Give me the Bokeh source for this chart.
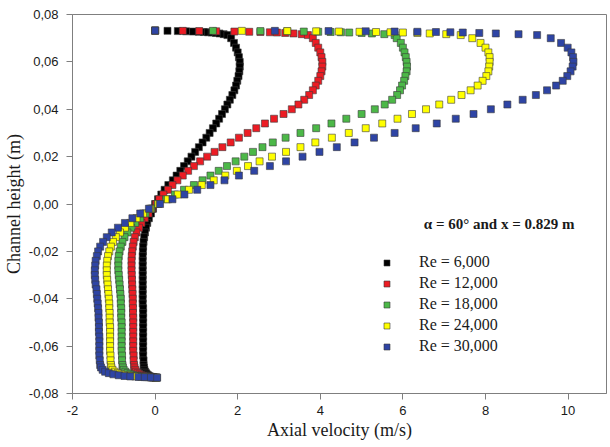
from bokeh.plotting import figure
from bokeh.models import Range1d, FixedTicker, CustomJSTickFormatter, Legend, LegendItem, Label
from bokeh.embed import file_html
from bokeh.resources import INLINE

# Channel height positions (m), shared by all series
y_pos = [0.0732, 0.0731, 0.0730, 0.0729, 0.0728, 0.0727, 0.0726, 0.0725, 0.0724, 0.0722, 0.0720, 0.0717, 0.0713,
         0.070, 0.068, 0.066, 0.064, 0.062, 0.060, 0.058, 0.056, 0.054, 0.052,
         0.050, 0.048, 0.046, 0.044, 0.042, 0.040, 0.038, 0.036, 0.034, 0.032,
         0.030, 0.028, 0.026, 0.024, 0.022, 0.020, 0.018, 0.016, 0.014, 0.012,
         0.010, 0.008, 0.006, 0.004, 0.002, 0.000, -0.002, -0.004, -0.006, -0.008,
         -0.010, -0.012, -0.014, -0.016, -0.018, -0.020, -0.022, -0.024, -0.026, -0.028,
         -0.030, -0.032, -0.034, -0.036, -0.038, -0.040, -0.042, -0.044, -0.046, -0.048,
         -0.050, -0.052, -0.054, -0.056, -0.058, -0.060, -0.062, -0.064, -0.066, -0.068,
         -0.0690, -0.0700, -0.0708, -0.0714, -0.0719, -0.0723, -0.0726, -0.0728, -0.0730, -0.0731, -0.0732, -0.0733]

u_re6000 = [0.0, 0.30, 0.55, 0.75, 0.92, 1.06, 1.18, 1.28, 1.37, 1.47, 1.56, 1.66, 1.75,
            1.84, 1.91, 1.96, 2.00, 2.03, 2.05, 2.05, 2.04, 2.02, 1.99,
            1.96, 1.92, 1.87, 1.81, 1.75, 1.69, 1.62, 1.55, 1.48, 1.40,
            1.32, 1.24, 1.15, 1.06, 0.97, 0.88, 0.79, 0.70, 0.61, 0.52,
            0.43, 0.32, 0.23, 0.15, 0.07, 0.00, -0.05, -0.10, -0.15, -0.19,
            -0.22, -0.245, -0.265, -0.28, -0.29, -0.295, -0.30, -0.30, -0.30, -0.30,
            -0.30, -0.30, -0.30, -0.30, -0.30, -0.30, -0.30, -0.29, -0.29, -0.29,
            -0.29, -0.29, -0.29, -0.29, -0.29, -0.29, -0.29, -0.29, -0.28, -0.28,
            -0.27, -0.26, -0.24, -0.22, -0.20, -0.17, -0.15, -0.12, -0.08, -0.05, -0.02, 0.02]

u_re12000 = [0.0, 0.67, 1.07, 1.48, 1.92, 2.28, 2.55, 2.78, 2.95, 3.15, 3.35, 3.55, 3.70,
             3.82, 3.89, 3.95, 4.00, 4.03, 4.05, 4.05, 4.03, 4.00, 3.95,
             3.89, 3.82, 3.73, 3.61, 3.47, 3.31, 3.11, 2.88, 2.66, 2.45,
             2.24, 2.03, 1.83, 1.63, 1.44, 1.26, 1.09, 0.94, 0.80, 0.67,
             0.54, 0.42, 0.31, 0.20, 0.10, 0.02, -0.07, -0.16, -0.25, -0.33,
             -0.39, -0.45, -0.49, -0.52, -0.54, -0.555, -0.565, -0.57, -0.57, -0.57,
             -0.565, -0.56, -0.555, -0.55, -0.545, -0.54, -0.54, -0.535, -0.535, -0.53,
             -0.53, -0.53, -0.53, -0.53, -0.53, -0.53, -0.53, -0.52, -0.52, -0.51,
             -0.50, -0.48, -0.46, -0.42, -0.38, -0.33, -0.28, -0.22, -0.15, -0.10, -0.04, 0.02]

u_re18000 = [0.0, 1.40, 2.55, 3.20, 3.60, 3.95, 4.25, 4.50, 4.70, 5.00, 5.25, 5.55, 5.80,
             5.85, 5.95, 6.00, 6.04, 6.07, 6.09, 6.10, 6.09, 6.06, 6.03,
             5.98, 5.93, 5.86, 5.74, 5.56, 5.32, 5.00, 4.63, 4.27, 3.90,
             3.52, 3.16, 2.85, 2.60, 2.37, 2.16, 1.95, 1.74, 1.54, 1.34,
             1.15, 0.94, 0.70, 0.48, 0.27, 0.06, -0.09, -0.23, -0.36, -0.48,
             -0.58, -0.67, -0.74, -0.79, -0.83, -0.86, -0.88, -0.89, -0.89, -0.89,
             -0.88, -0.87, -0.86, -0.85, -0.84, -0.83, -0.83, -0.82, -0.82, -0.82,
             -0.81, -0.81, -0.81, -0.81, -0.81, -0.81, -0.81, -0.80, -0.80, -0.79,
             -0.78, -0.76, -0.72, -0.67, -0.60, -0.52, -0.44, -0.35, -0.24, -0.15, -0.06, 0.03]

u_re24000 = [0.0, 2.10, 3.20, 3.90, 4.45, 4.95, 5.35, 5.70, 6.00, 6.35, 6.65, 7.05, 7.40,
             7.68, 7.88, 8.00, 8.07, 8.10, 8.10, 8.09, 8.07, 8.02, 7.93,
             7.81, 7.64, 7.42, 7.17, 6.88, 6.56, 6.22, 5.87, 5.50, 5.10,
             4.69, 4.28, 3.88, 3.52, 3.17, 2.83, 2.53, 2.25, 1.98, 1.70,
             1.42, 1.13, 0.82, 0.55, 0.31, 0.08, -0.12, -0.29, -0.45, -0.60,
             -0.73, -0.85, -0.95, -1.02, -1.07, -1.11, -1.14, -1.16, -1.17, -1.17,
             -1.17, -1.16, -1.15, -1.14, -1.13, -1.12, -1.11, -1.11, -1.10, -1.10,
             -1.10, -1.09, -1.09, -1.09, -1.09, -1.09, -1.09, -1.08, -1.08, -1.07,
             -1.06, -1.03, -0.98, -0.91, -0.82, -0.71, -0.60, -0.48, -0.32, -0.20, -0.08, 0.04]

u_re30000 = [0.0, 2.90, 4.20, 5.10, 5.80, 6.35, 6.80, 7.15, 7.45, 7.85, 8.25, 8.80, 9.25,
             9.58, 9.83, 9.99, 10.08, 10.12, 10.13, 10.11, 10.06, 9.98, 9.87,
             9.71, 9.49, 9.22, 8.90, 8.53, 8.13, 7.71, 7.28, 6.82, 6.31,
             5.80, 5.30, 4.83, 4.40, 3.98, 3.57, 3.17, 2.78, 2.40, 2.03,
             1.68, 1.34, 1.02, 0.71, 0.42, 0.12, -0.15, -0.36, -0.55, -0.73,
             -0.90, -1.05, -1.17, -1.26, -1.33, -1.38, -1.41, -1.44, -1.45, -1.46,
             -1.46, -1.45, -1.44, -1.42, -1.41, -1.40, -1.39, -1.38, -1.37, -1.37,
             -1.36, -1.36, -1.36, -1.35, -1.35, -1.35, -1.35, -1.35, -1.34, -1.33,
             -1.31, -1.27, -1.21, -1.12, -1.01, -0.88, -0.74, -0.60, -0.40, -0.25, -0.10, 0.05]

series_labels = ["Re = 6,000", "Re = 12,000", "Re = 18,000", "Re = 24,000", "Re = 30,000"]
series_values = [u_re6000, u_re12000, u_re18000, u_re24000, u_re30000]
series_colors = ["#000000", "#ec1c24", "#4cb848", "#ffff00", "#2e44a4"]

x_ticks = [-2, 0, 2, 4, 6, 8, 10]
y_ticks = [-0.08, -0.06, -0.04, -0.02, 0.0, 0.02, 0.04, 0.06, 0.08]

p = figure(width=610, height=447, output_backend="svg", toolbar_location=None,
           x_range=Range1d(-2, 10.93), y_range=Range1d(-0.08, 0.08),
           min_border_left=70, min_border_right=4, min_border_top=14, min_border_bottom=54,
           x_axis_label="Axial velocity (m/s)", y_axis_label="Channel height (m)")
p.background_fill_color = "white"
p.border_fill_color = "white"
p.outline_line_color = "#7f7f7f"
p.xgrid.visible = False
p.ygrid.visible = False

p.xaxis.ticker = FixedTicker(ticks=x_ticks)
p.yaxis.ticker = FixedTicker(ticks=y_ticks)
p.xaxis.formatter = CustomJSTickFormatter(code="return tick.toFixed(0);")
p.yaxis.formatter = CustomJSTickFormatter(
    code="if (Math.abs(tick) < 1e-9) { return '0,00'; } return tick.toFixed(2).replace('.', ',');")

for ax in (p.xaxis[0], p.yaxis[0]):
    ax.axis_line_color = "#7f7f7f"
    ax.major_tick_line_color = "#7f7f7f"
    ax.minor_tick_line_color = None
    ax.major_tick_out = 6
    ax.major_tick_in = 0
    ax.major_label_text_font = "Liberation Sans"
    ax.major_label_text_font_size = "13px"
    ax.major_label_text_color = "#1a1a1a"
    ax.axis_label_text_font = "Liberation Serif"
    ax.axis_label_text_font_size = "18px"
    ax.axis_label_text_font_style = "normal"
    ax.axis_label_text_color = "#1a1a1a"
p.yaxis.major_label_standoff = 8
p.yaxis.axis_label_standoff = 2
p.xaxis.major_label_standoff = 6
p.xaxis.axis_label_standoff = 2

items = []
for lab, vals, col in zip(series_labels, series_values, series_colors):
    r = p.scatter(vals, y_pos, marker="square", size=7, fill_color=col,
                  line_color="#3a3a3a", line_width=0.6)
    items.append(LegendItem(label=lab, renderers=[r]))

legend = Legend(items=items, location=(307, 38), glyph_width=15, glyph_height=15,
                label_standoff=25, spacing=3, label_height=18, padding=0, margin=0,
                border_line_color=None, background_fill_alpha=0,
                label_text_font="Liberation Serif", label_text_font_size="16px",
                label_text_color="#1a1a1a")
p.add_layout(legend)

note = Label(x=8.33, y=-0.0086, text="α = 60° and x = 0.829 m", text_align="center",
             text_baseline="middle", text_font="Liberation Serif", text_font_style="bold",
             text_font_size="15px", text_color="#1a1a1a")
p.add_layout(note)

open("out.html", "w").write(file_html(p, INLINE))
